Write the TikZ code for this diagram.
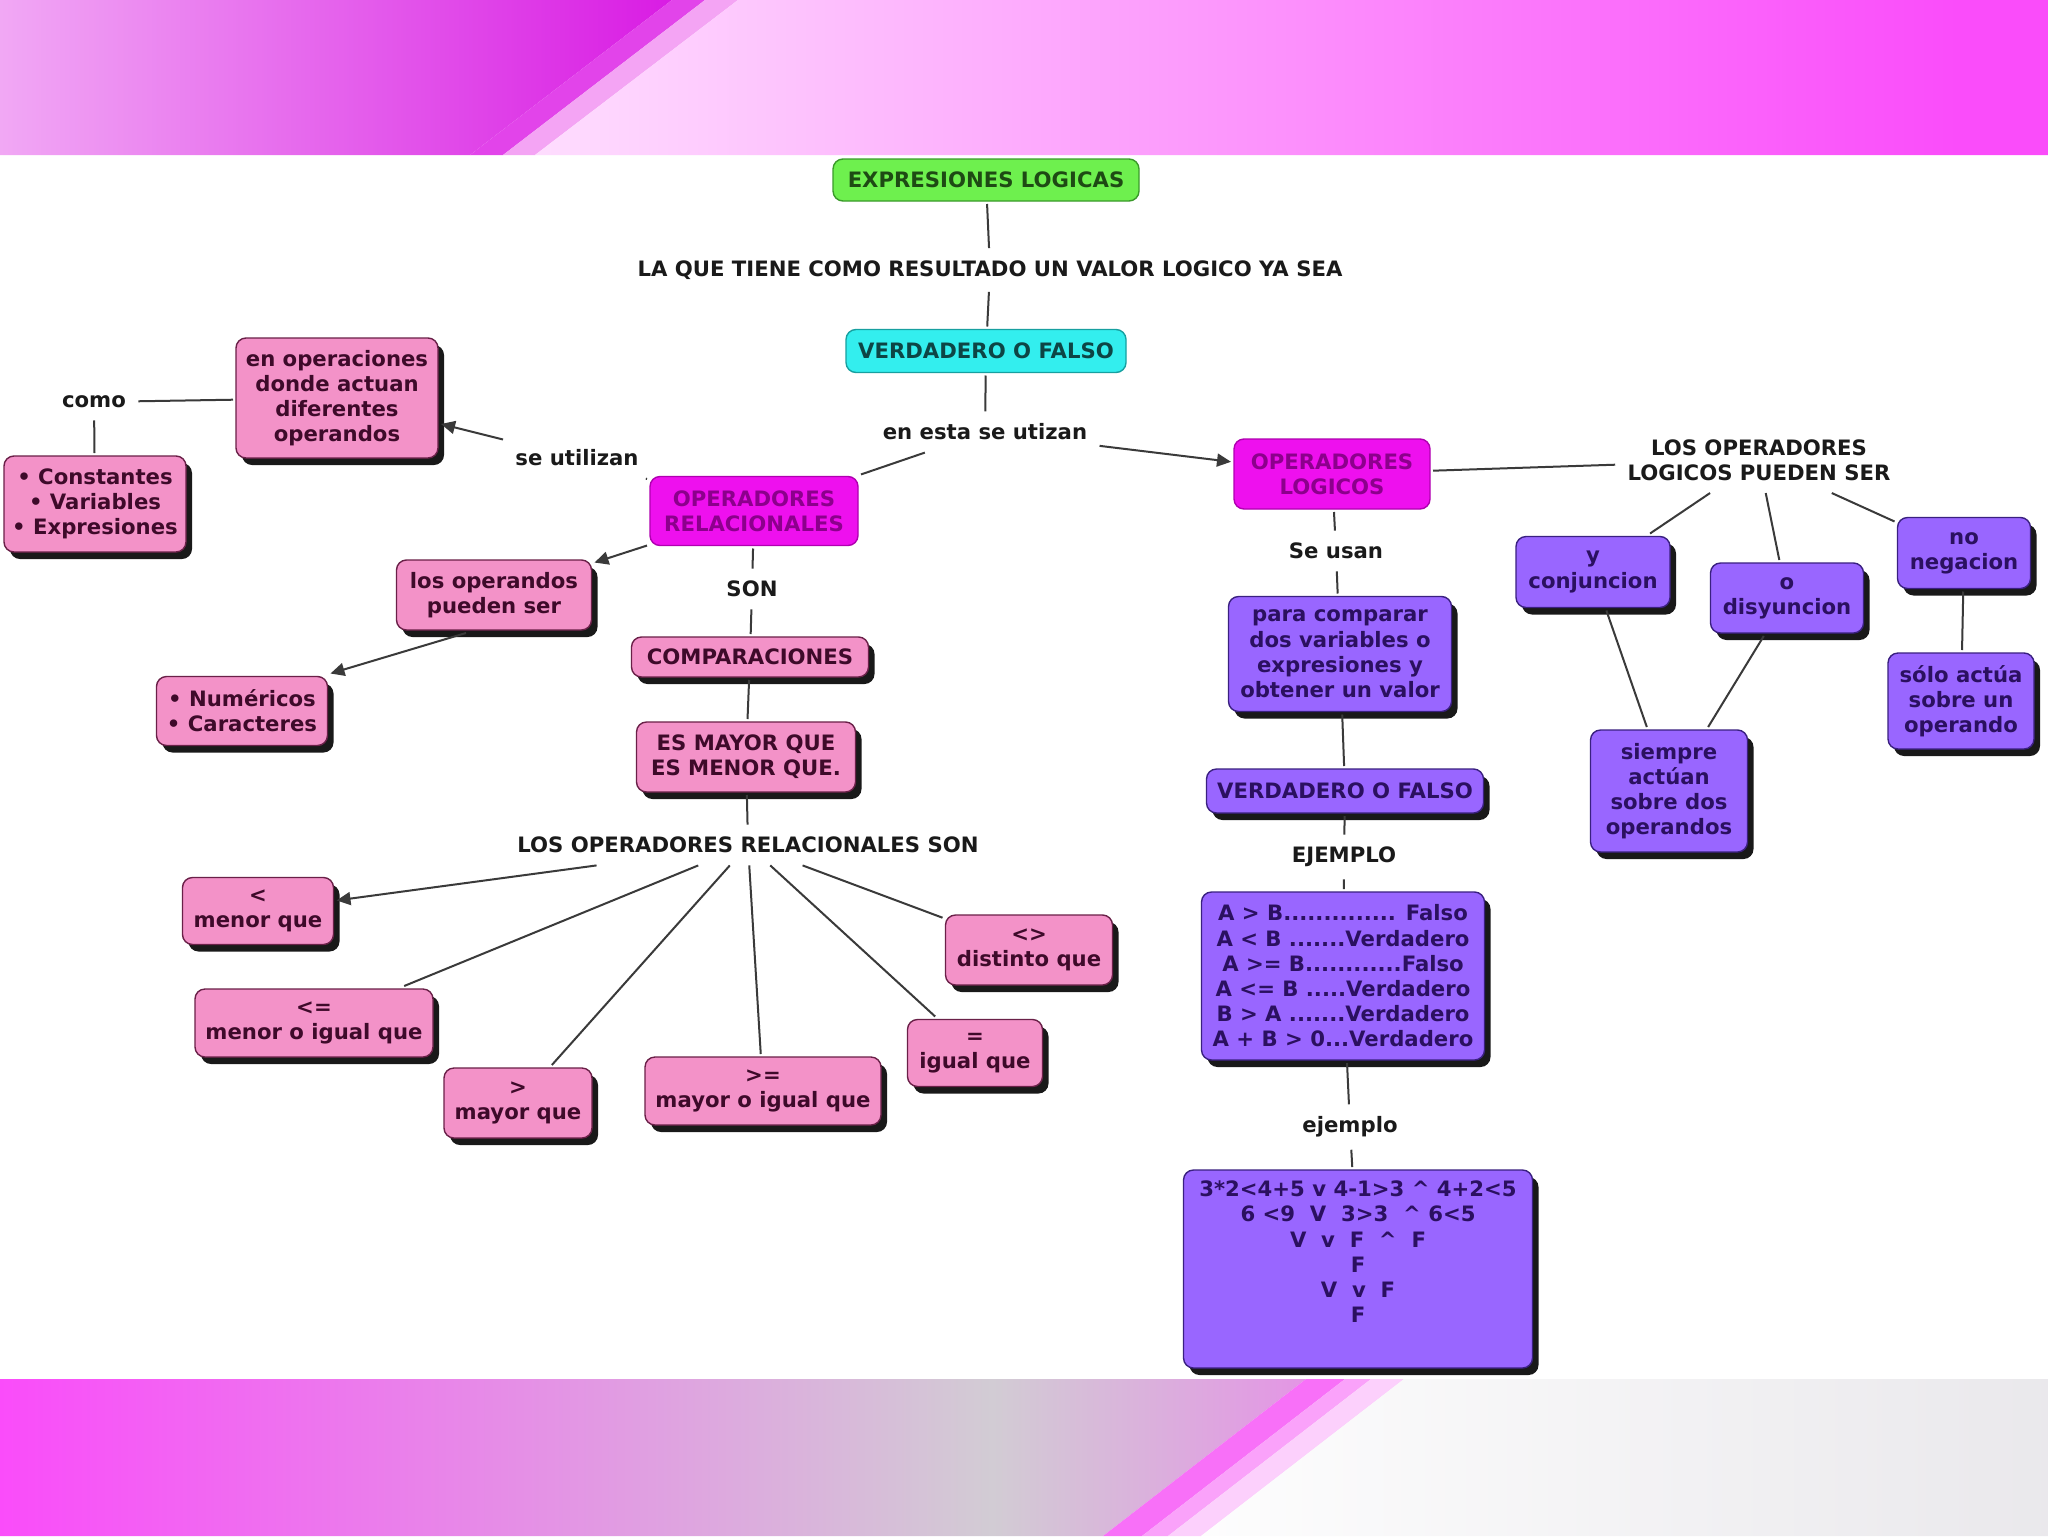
\documentclass[tikz,border=0pt]{standalone}
\usepackage{fontspec}
\setmainfont{DejaVu Sans}
\usetikzlibrary{arrows.meta,shadows}
\definecolor{tA0}{HTML}{FDEEFD}
\definecolor{tA1}{HTML}{D400E0}
\definecolor{tS1}{HTML}{E244EA}
\definecolor{tS2}{HTML}{F4A4F4}
\definecolor{magB}{HTML}{FA4CFA}
\definecolor{grayB}{HTML}{D2CCD4}
\definecolor{bS1}{HTML}{F870F8}
\definecolor{bS2}{HTML}{FAA2FA}
\definecolor{bS3}{HTML}{FCD0FC}
\definecolor{grayD}{HTML}{E0DEE3}
\definecolor{greenf}{HTML}{6EF04E}
\definecolor{greend}{HTML}{3A9A2A}
\definecolor{greent}{HTML}{1E4A14}
\definecolor{cyanf}{HTML}{33EEEE}
\definecolor{cyand}{HTML}{17A0A0}
\definecolor{cyant}{HTML}{0D4545}
\definecolor{magf}{HTML}{EE10EE}
\definecolor{magd}{HTML}{B000B0}
\definecolor{magt}{HTML}{8C008C}
\definecolor{pinkf}{HTML}{F392C8}
\definecolor{pinkd}{HTML}{6A2048}
\definecolor{pinkt}{HTML}{3E0A2A}
\definecolor{purpf}{HTML}{9966FF}
\definecolor{purpd}{HTML}{3A2080}
\definecolor{purpt}{HTML}{2B1060}
\definecolor{linec}{HTML}{3A3A3A}
\definecolor{lblc}{HTML}{1A1A1A}
\pgfdeclarehorizontalshading{topA}{100bp}{color(0bp)=(tA0); color(85bp)=(tA1); color(100bp)=(tA1)}
\pgfdeclarehorizontalshading{topB}{100bp}{color(0bp)=(white); color(14bp)=(white); color(72bp)=(magB); color(100bp)=(magB)}
\pgfdeclarehorizontalshading{botC}{100bp}{color(0bp)=(magB); color(25bp)=(magB); color(63bp)=(grayB); color(91bp)=(magB); color(100bp)=(magB)}
\pgfdeclarehorizontalshading{botD}{100bp}{color(0bp)=(white); color(20bp)=(white); color(100bp)=(grayD)}
\tikzset{
  base/.style={font=\fontsize{10.6}{12.6}\selectfont\bfseries, align=center},
  lbl/.style={base, text=lblc, inner sep=6pt},
  sz/.style 2 args={minimum width=#1pt, minimum height=#2pt},
  box/.style={base, rounded corners=5pt, line width=0.7pt, inner sep=2pt, outer sep=1.5pt},
  sh/.style={drop shadow={shadow xshift=3pt, shadow yshift=-3.5pt, fill=black, opacity=0.9}},
  pinkbox/.style={box, sh, fill=pinkf, draw=pinkd, text=pinkt},
  purpbox/.style={box, sh, fill=purpf, draw=purpd, text=purpt},
  magbox/.style={box, fill=magf, draw=magd, text=magt},
  greenbox/.style={box, fill=greenf, draw=greend, text=greent},
  cyanbox/.style={box, fill=cyanf, draw=cyand, text=cyant},
  conn/.style={draw=linec, line width=1pt},
  arr/.style={conn, -{Triangle[length=7pt,width=6.5pt]}},
}
\begin{document}
\begin{tikzpicture}[x=0.5pt, y=-0.5pt]
\useasboundingbox (0,0) rectangle (2048,1536);
\fill[white] (0,0) rectangle (2048,1536);
% top band
\shade[shading=topA] (0,0) -- (672,0) -- (470,155) -- (0,155) -- cycle;
\fill[tS1] (672,0) -- (705,0) -- (503,155) -- (470,155) -- cycle;
\fill[tS2] (705,0) -- (738,0) -- (535,155) -- (503,155) -- cycle;
\shade[shading=topB] (738,0) -- (2048,0) -- (2048,155) -- (535,155) -- cycle;
% bottom band
\shade[shading=botC] (0,1379) -- (1306,1379) -- (1103,1536) -- (0,1536) -- cycle;
\fill[bS1] (1306,1379) -- (1345,1379) -- (1142,1536) -- (1103,1536) -- cycle;
\fill[bS2] (1345,1379) -- (1371,1379) -- (1168,1536) -- (1142,1536) -- cycle;
\fill[bS3] (1371,1379) -- (1404,1379) -- (1201,1536) -- (1168,1536) -- cycle;
\shade[shading=botD] (1404,1379) -- (2048,1379) -- (2048,1536) -- (1201,1536) -- cycle;

% top nodes
\node[greenbox, sz={153}{21}] (expr) at (986,180) {EXPRESIONES LOGICAS};
\node[lbl] (laque) at (990,270) {LA QUE TIENE COMO RESULTADO UN VALOR LOGICO YA SEA};
\node[cyanbox, sz={140}{21.5}] (vf1) at (986,351) {VERDADERO O FALSO};
\node[lbl] (enesta) at (985,432) {en esta se utizan};
\node[magbox, sz={104}{34.5}] (oprel) at (754,511) {OPERADORES\\RELACIONALES};
\node[magbox, sz={98}{35}] (oplog) at (1332,474) {OPERADORES\\LOGICOS};

% left branch
\node[lbl] (seutil) at (577,458) {se utilizan};
\node[pinkbox, sz={101}{60}] (enop) at (337,398) {en operaciones\\donde actuan\\diferentes\\operandos};
\node[lbl] (como) at (94,402) {como};
\node[pinkbox, sz={91}{48}] (const) at (95,504) {• Constantes\\• Variables\\• Expresiones};
\node[pinkbox, sz={97.5}{35}] (losop) at (494,595) {los operandos\\pueden ser};
\node[pinkbox, sz={85.5}{34.5}] (num) at (242,711) {• Numéricos\\• Caracteres};
\node[lbl] (son) at (752,589) {SON};
\node[pinkbox, sz={118.5}{20}] (comp) at (750,657) {COMPARACIONES};
\node[pinkbox, sz={109.5}{35}] (esmay) at (746,757) {ES MAYOR QUE\\ES MENOR QUE.};
\node[lbl] (losrel) at (748,845) {LOS OPERADORES RELACIONALES SON};
\node[pinkbox, sz={75.5}{33.5}] (menor) at (258,911) {<\\menor que};
\node[pinkbox, sz={119}{34}] (menig) at (314,1023) {<=\\menor o igual que};
\node[pinkbox, sz={74}{35}] (mayor) at (518,1103) {>\\mayor que};
\node[pinkbox, sz={118}{34}] (mayig) at (763,1091) {>=\\mayor o igual que};
\node[pinkbox, sz={67.5}{33.5}] (igual) at (975,1053) {=\\igual que};
\node[pinkbox, sz={83.5}{35}] (dist) at (1029,950) {<>\\distinto que};

% middle-right branch
\node[lbl] (seusan) at (1336,551) {Se usan};
\node[purpbox, sz={111.5}{57.5}] (para) at (1340,654) {para comparar\\dos variables o\\expresiones y\\obtener un valor};
\node[purpbox, sz={138.5}{22}] (vf2) at (1345,791) {VERDADERO O FALSO};
\node[lbl] (ejem1) at (1344,857) {EJEMPLO};
\node[purpbox, sz={141.5}{84}] (ab) at (1343,976) {A > B.............. Falso\\A < B .......Verdadero\\A >= B............Falso\\A <= B .....Verdadero\\B > A .......Verdadero\\A + B > 0...Verdadero};
\node[lbl] (ejem2) at (1350,1127) {ejemplo};
\node[purpbox, sz={174.5}{99}] (calc) at (1358,1269) {\begin{minipage}[c][92pt][t]{168pt}\centering
\vspace*{2pt}3*2<4+5 v 4-1>3 \textasciicircum{} 4+2<5\\
6 <9 \ V \ 3>3 \ \textasciicircum{} 6<5\\
V \ v \ F \ \textasciicircum{} \ F\\
F\\
V \ v \ F\\
F\end{minipage}};

% far right branch
\node[lbl] (loslog) at (1759,460) {LOS OPERADORES\\LOGICOS PUEDEN SER};
\node[purpbox, sz={77}{35.5}] (conj) at (1593,572) {y\\conjuncion};
\node[purpbox, sz={76.5}{35}] (disy) at (1787,598) {o\\disyuncion};
\node[purpbox, sz={66.5}{35.5}] (neg) at (1964,553) {no\\negacion};
\node[purpbox, sz={78.5}{61}] (siem) at (1669,791) {siempre\\actúan\\sobre dos\\operandos};
\node[purpbox, sz={73}{48}] (solo) at (1961,701) {sólo actúa\\sobre un\\operando};

% connectors
\draw[conn] (expr) -- (laque);
\draw[conn] (laque) -- (vf1);
\draw[conn] (vf1) -- (enesta);
\draw[conn] (enesta) -- (oprel);
\draw[arr] (enesta) -- (oplog);
\draw[conn] (oprel) -- (seutil);
\draw[arr] (seutil) -- (enop);
\draw[conn] (enop) -- (como);
\draw[conn] (como) -- (const);
\draw[arr] (oprel) -- (losop);
\draw[arr] ([xshift=-14pt]losop.south) -- (num.north east);
\draw[conn] (oprel) -- (son);
\draw[conn] (son) -- (comp);
\draw[conn] (comp) -- (esmay);
\draw[conn] (esmay) -- (losrel);
\draw[arr] (losrel) -- (menor);
\draw[conn] (losrel) -- (menig);
\draw[conn] (losrel) -- (mayor);
\draw[conn] (losrel) -- (mayig);
\draw[conn] (losrel) -- (igual);
\draw[conn] (losrel) -- (dist);
\draw[conn] (oplog) -- (seusan);
\draw[conn] (seusan) -- (para);
\draw[conn] (para) -- (vf2);
\draw[conn] (vf2) -- (ejem1);
\draw[conn] (ejem1) -- (ab);
\draw[conn] (ab) -- (ejem2);
\draw[conn] (ejem2) -- (calc);
\draw[conn] (oplog) -- (loslog);
\draw[conn] (loslog) -- (conj);
\draw[conn] (loslog) -- (disy);
\draw[conn] (loslog) -- (neg);
\draw[conn] (conj) -- (siem);
\draw[conn] (disy) -- (siem);
\draw[conn] (neg) -- (solo);
\end{tikzpicture}
\end{document}
